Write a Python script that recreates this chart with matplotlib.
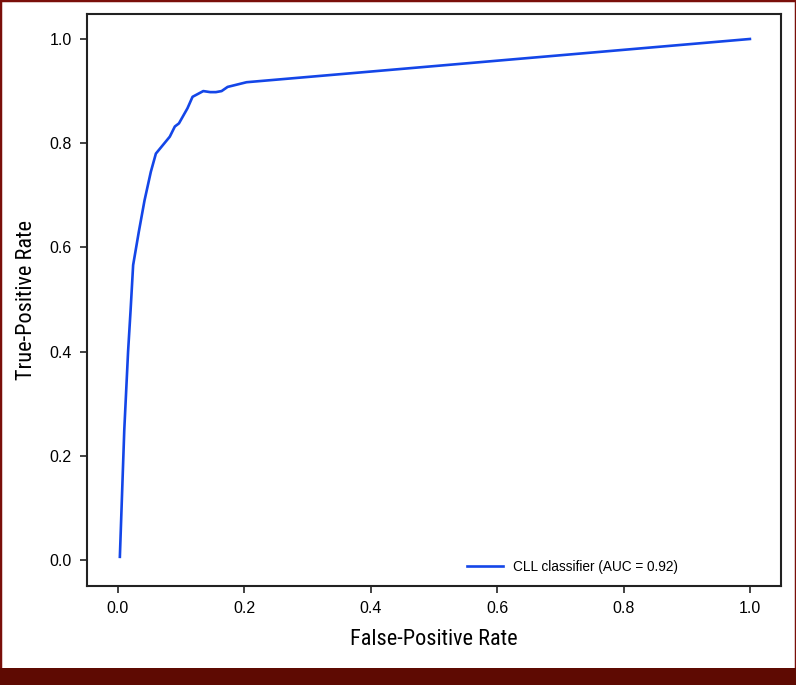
import matplotlib
matplotlib.use("Agg")
import matplotlib.pyplot as plt
from matplotlib.patches import Rectangle

fpr = [0.003, 0.010, 0.016, 0.020, 0.024, 0.033, 0.042, 0.052, 0.060, 0.082, 0.090,
       0.0965, 0.110, 0.118, 0.135, 0.146, 0.155, 0.164, 0.1735, 0.2035, 1.0]
tpr = [0.006, 0.25, 0.40, 0.48, 0.566, 0.63, 0.69, 0.745, 0.78, 0.8125, 0.832,
       0.838, 0.867, 0.889, 0.900, 0.898, 0.898, 0.900, 0.908, 0.917, 1.0]
label = "CLL classifier (AUC = 0.92)"
xticks = [0.0, 0.2, 0.4, 0.6, 0.8, 1.0]
yticks = [0.0, 0.2, 0.4, 0.6, 0.8, 1.0]

fig = plt.figure(figsize=(7.96, 6.85), dpi=100)
ax = fig.add_axes([0.1093, 0.1445, 0.981 - 0.1093, 0.9796 - 0.1445])
ax.plot(fpr, tpr, color="#1446e8", lw=1.9, label=label)
ax.set_xlim(-0.049, 1.049)
ax.set_ylim(-0.05, 1.048)
ax.set_xticks(xticks)
ax.set_yticks(yticks)
tick_font = ["Liberation Sans", "DejaVu Sans"]
ax.set_xticklabels([f"{t:.1f}" for t in xticks], fontsize=11.5, family=tick_font)
ax.set_yticklabels([f"{t:.1f}" for t in yticks], fontsize=11.5, family=tick_font)
ax.tick_params(length=5, width=1.2, color="#222222", pad=6)
for s in ax.spines.values():
    s.set_linewidth(1.5)
    s.set_color("#222222")
lab_font = ["Liberation Sans Narrow", "Roboto Condensed", "Liberation Sans", "DejaVu Sans"]
ax.set_xlabel("False-Positive Rate", fontsize=16, family=lab_font, labelpad=9)
ax.set_ylabel("True-Positive Rate", fontsize=16, family=lab_font, labelpad=9)
leg = ax.legend(loc="lower right", frameon=False, handlelength=2.6,
                bbox_to_anchor=(0.87, 0.0), prop={"family": tick_font, "size": 9.8})

# frame and bottom bar
fig.patches.append(Rectangle((0, 0), 1, 1, transform=fig.transFigure, fill=False,
                             edgecolor="#7a0f0a", lw=2.5, zorder=10))
fig.patches.append(Rectangle((0, 0), 1, 17 / 685, transform=fig.transFigure,
                             facecolor="#5e0a02", edgecolor="none", zorder=11))
fig.savefig("out.png", dpi=100)
